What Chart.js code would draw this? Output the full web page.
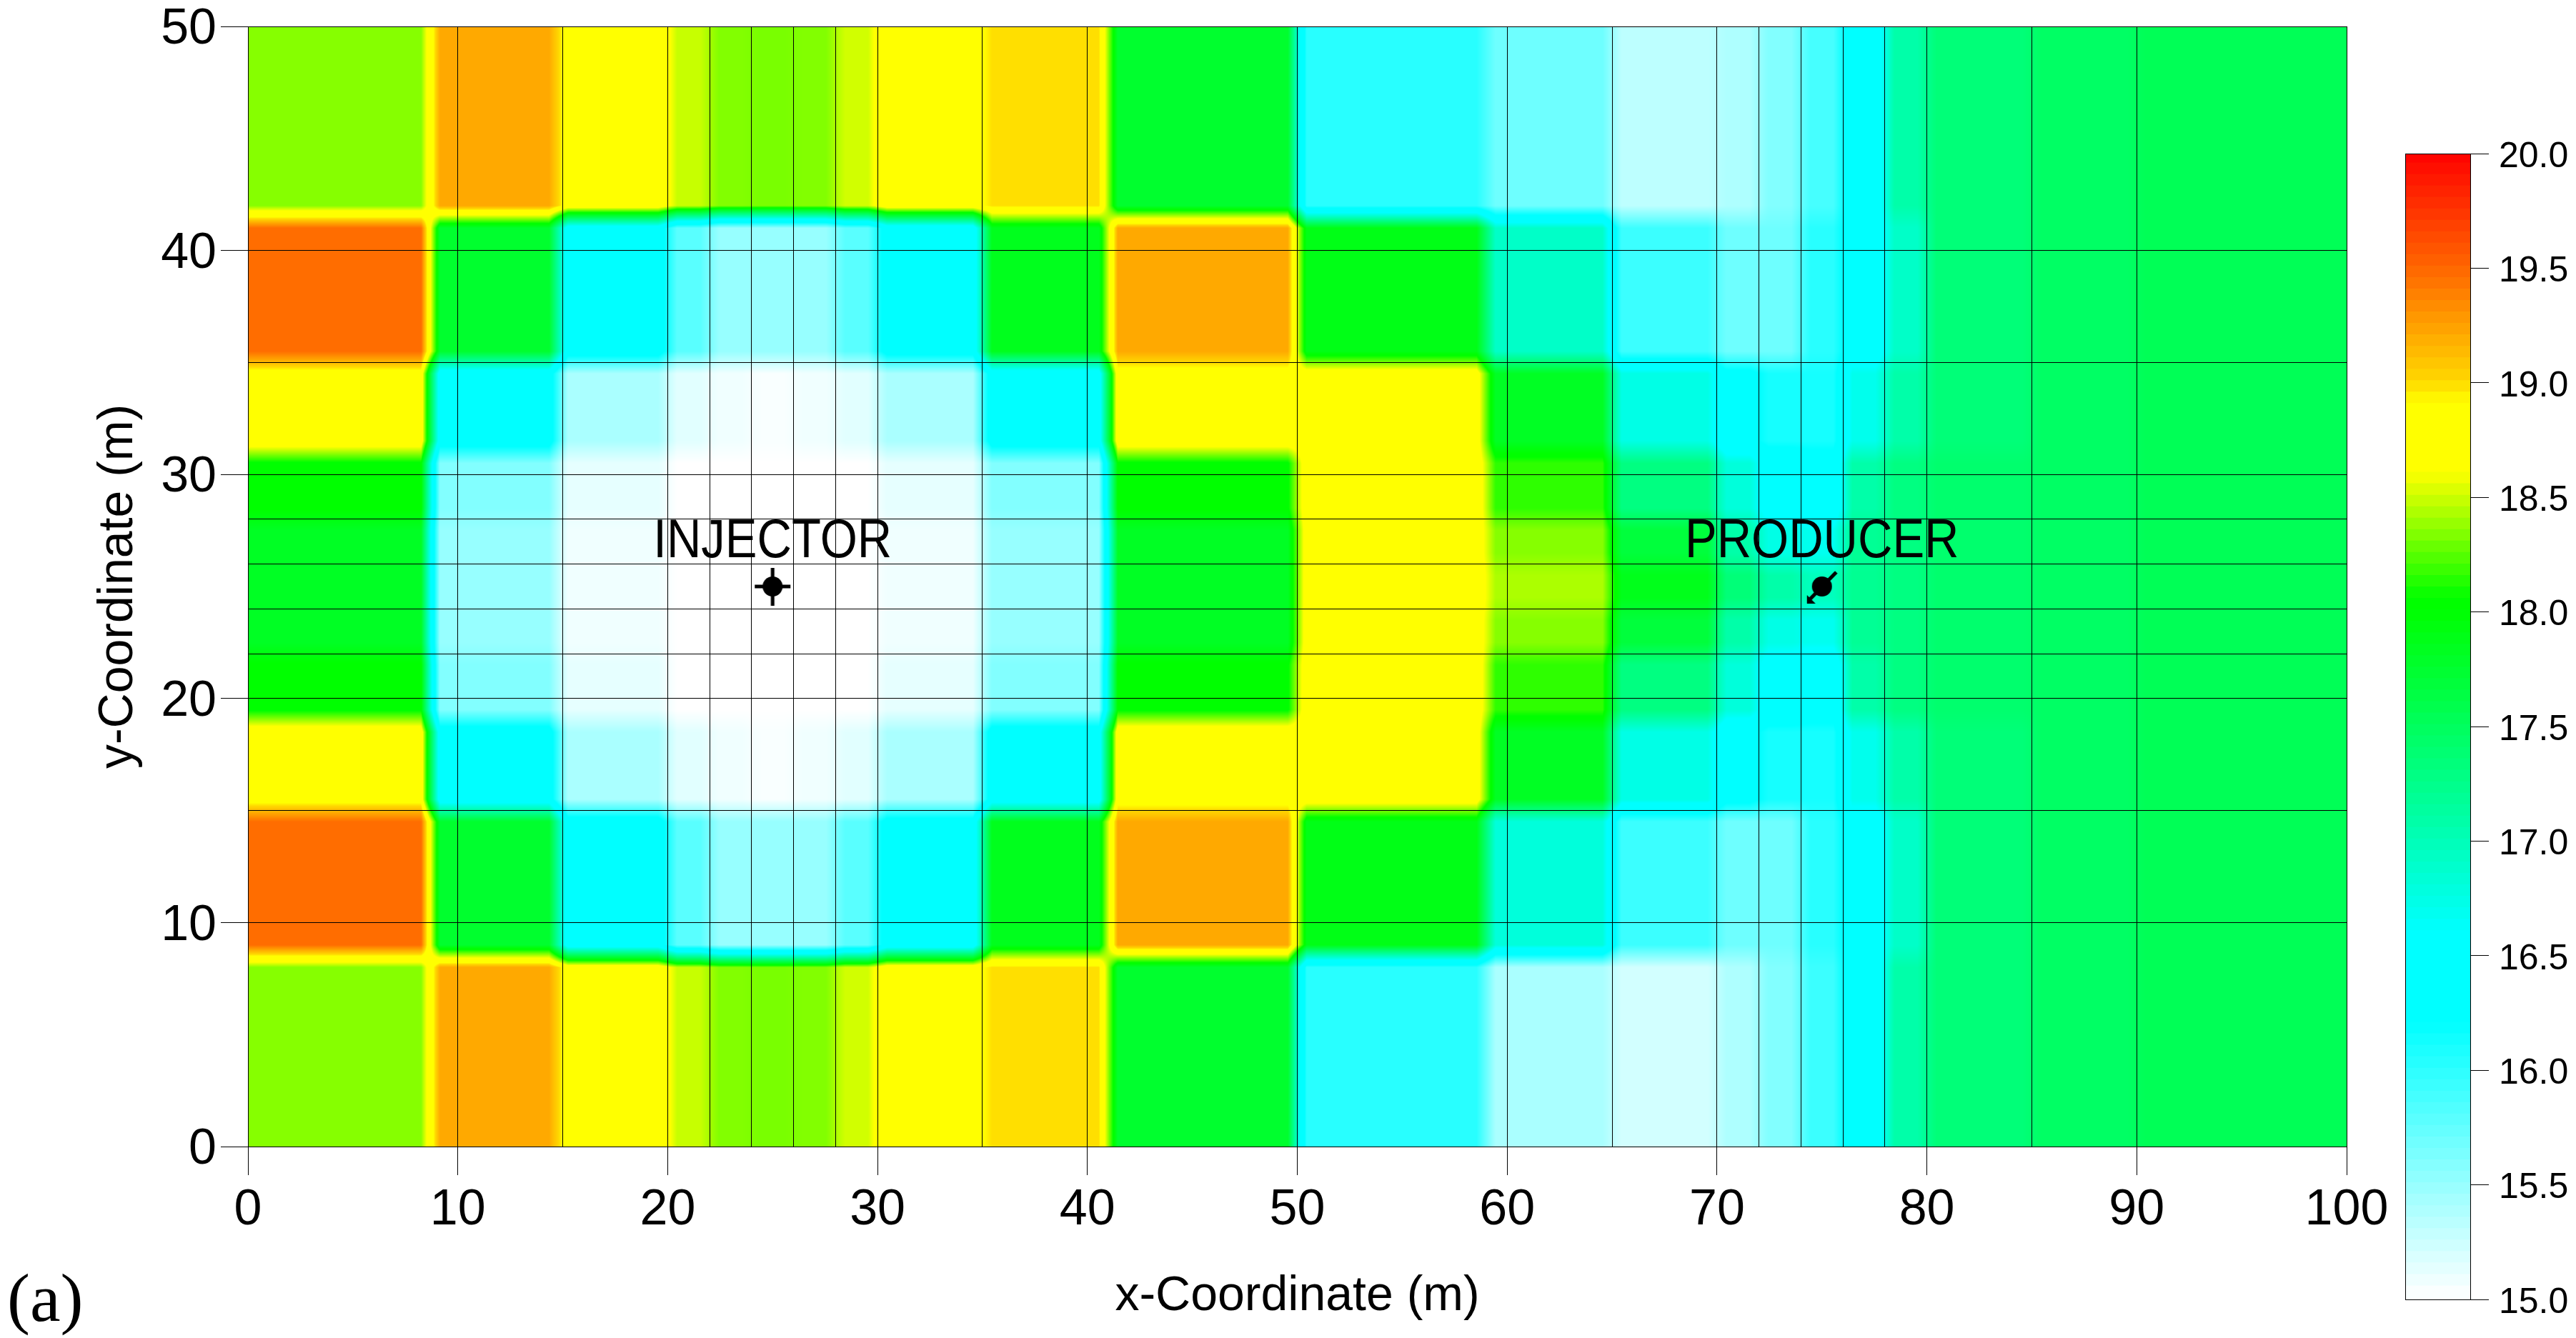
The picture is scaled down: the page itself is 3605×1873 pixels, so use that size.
<!DOCTYPE html>
<html>
<head>
<meta charset="utf-8">
<title>Reservoir map</title>
<script src="https://cdn.jsdelivr.net/npm/chart.js@4"></script>
<style>
    html, body { margin: 0; padding: 0; background: #fff; overflow: hidden; }
    #wrap { position: relative; width: 3605px; height: 1873px; }
    #mapChart { position: absolute; left: 0; top: 0; }
    #barChart { position: absolute; left: 3360px; top: 0; }
</style>
</head>
<body>
<div id="wrap">
    <canvas id="mapChart" width="3605" height="1873"></canvas>
    <canvas id="barChart" width="245" height="1873"></canvas>
</div>
<script>
// grid lines drawn on the map
const gridX = [0, 10, 15, 20, 22, 24, 26, 28, 30, 35, 40, 50, 60, 65, 70, 72, 74, 76, 78, 80, 85, 90, 100];
const gridY = [0, 10, 15, 20, 22, 24, 26, 28, 30, 35, 40, 50];

// block edges of the value table, these do not sit on the grid lines
const blockX = [0, 8.7, 14.8, 20, 22, 24, 26, 28, 30, 35, 41, 50, 59, 65, 70, 72, 74, 76, 78, 80, 85, 90, 100];
const blockY = [0, 8.5, 15, 19, 22, 24, 26, 28, 31, 35, 41.5, 50];

// one row per blockY band, bottom to top
const row0 = [18.34, 19.2, 18.8, 18.48, 18.33, 18.31, 18.33, 18.5, 18.8, 18.98, 17.75, 16.01, 15.4, 15.21, 15.38, 15.59, 15.92, 16.4, 17.07, 17.34, 17.45, 17.53];
const row1 = [19.46, 17.75, 16.4, 15.78, 15.49, 15.49, 15.49, 15.78, 16.35, 17.84, 19.2, 17.88, 16.8, 15.92, 15.68, 15.68, 16.01, 16.4, 16.9, 17.34, 17.45, 17.53];
const row2 = [18.8, 16.4, 15.4, 15.14, 15.07, 15.03, 15.07, 15.14, 15.4, 16.4, 18.8, 18.75, 17.8, 16.74, 16.3, 16.1, 16.1, 16.7, 17.07, 17.34, 17.45, 17.53];
const row3 = [18.02, 15.59, 15.12, 15, 15, 15, 15, 15, 15.12, 15.59, 18.02, 18.8, 18.15, 17.29, 16.8, 16.45, 16.35, 17.07, 17.29, 17.4, 17.45, 17.53];
const row4 = [17.8, 15.49, 15.07, 15, 15, 15, 15, 15, 15.07, 15.49, 17.8, 18.75, 18.34, 17.67, 17.07, 16.74, 16.68, 17.18, 17.29, 17.4, 17.45, 17.53];
const row5 = [17.8, 15.49, 15.07, 15, 15, 15, 15, 15, 15.07, 15.49, 17.8, 18.75, 18.42, 17.85, 17.34, 17.07, 16.96, 17.2, 17.29, 17.4, 17.45, 17.53];
const row6 = [17.8, 15.49, 15.07, 15, 15, 15, 15, 15, 15.07, 15.49, 17.8, 18.75, 18.34, 17.67, 17.07, 16.74, 16.68, 17.18, 17.29, 17.4, 17.45, 17.53];
const row7 = [18.02, 15.59, 15.12, 15, 15, 15, 15, 15, 15.12, 15.59, 18.02, 18.8, 18.15, 17.29, 16.8, 16.45, 16.35, 17.07, 17.29, 17.4, 17.45, 17.53];
const row8 = [18.8, 16.4, 15.4, 15.14, 15.07, 15.03, 15.07, 15.14, 15.4, 16.4, 18.8, 18.75, 17.8, 16.74, 16.3, 16.1, 16.1, 16.7, 17.07, 17.34, 17.45, 17.53];
const row9 = [19.46, 17.75, 16.4, 15.78, 15.49, 15.49, 15.49, 15.78, 16.35, 17.84, 19.2, 17.88, 16.9, 15.92, 15.68, 15.68, 16.01, 16.4, 16.9, 17.34, 17.45, 17.53];
const row10 = [18.34, 19.2, 18.8, 18.48, 18.33, 18.31, 18.33, 18.5, 18.8, 18.98, 17.75, 16.01, 15.68, 15.31, 15.38, 15.59, 15.87, 16.4, 17.07, 17.34, 17.45, 17.53];
const blockRows = [row0, row1, row2, row3, row4, row5, row6, row7, row8, row9, row10];

// wells
const wellNames = ['INJECTOR', 'PRODUCER'];
const wellX = [25, 75];
const wellY = [25, 25];

// colour bar
const barTicks = [15, 15.5, 16, 16.5, 17, 17.5, 18, 18.5, 19, 19.5, 20];
const barStep = 0.05;
const colorStops = [
    [15, 255, 255, 255], [16.2, 0, 255, 255], [16.6, 0, 255, 255], [18, 0, 255, 0], [18.05, 0, 255, 0],
    [18.6, 255, 255, 0], [18.9, 255, 255, 0], [19, 255, 215, 0], [19.5, 255, 100, 0], [20, 255, 0, 0]
];

const sansFont = '"Liberation Sans", Arial, sans-serif';

function colorFor(v) {
    if (v <= colorStops[0][0]) return colorStops[0].slice(1);
    for (let i = 1; i < colorStops.length; i++) {
        const b = colorStops[i];
        if (v <= b[0]) {
            const a = colorStops[i - 1];
            const t = (v - a[0]) / (b[0] - a[0]);
            return [a[1] + (b[1] - a[1]) * t, a[2] + (b[2] - a[2]) * t, a[3] + (b[3] - a[3]) * t];
        }
    }
    return colorStops[colorStops.length - 1].slice(1);
}

// which two blocks a position falls between, and how far across
function blendOf(edges, v, w) {
    let i = 0;
    while (i < edges.length - 2 && v >= edges[i + 1]) i++;
    if (v > edges[i + 1] - w && i < edges.length - 2) return [i, i + 1, (v - edges[i + 1] + w) / (2 * w)];
    if (v < edges[i] + w && i > 0) return [i - 1, i, (v - edges[i] + w) / (2 * w)];
    return [i, i, 0];
}

// paints the value table under the grid lines
const heatPlugin = {
    id: 'heat',
    beforeDraw(chart) {
        const area = chart.chartArea;
        const sx = chart.scales.x, sy = chart.scales.y;
        const w = Math.round(area.right - area.left), h = Math.round(area.bottom - area.top);
        const off = document.createElement('canvas');
        off.width = w; off.height = h;
        const octx = off.getContext('2d');
        const img = octx.createImageData(w, h);
        const xb = [];
        for (let px = 0; px < w; px++) xb.push(blendOf(blockX, sx.getValueForPixel(area.left + px + 0.5), 0.45));
        let k = 0;
        for (let py = 0; py < h; py++) {
            const yb = blendOf(blockY, sy.getValueForPixel(area.top + py + 0.5), 0.5);
            const ra = blockRows[yb[0]], rb = blockRows[yb[1]];
            for (let px = 0; px < w; px++) {
                const b = xb[px];
                const lo = ra[b[0]] + (ra[b[1]] - ra[b[0]]) * b[2];
                const hi = rb[b[0]] + (rb[b[1]] - rb[b[0]]) * b[2];
                const c = colorFor(lo + (hi - lo) * yb[2]);
                img.data[k++] = c[0]; img.data[k++] = c[1]; img.data[k++] = c[2]; img.data[k++] = 255;
            }
        }
        octx.putImageData(img, 0, 0);
        chart.ctx.drawImage(off, area.left, area.top);
    },
    afterDraw(chart) {
        const ctx = chart.ctx;
        ctx.save();
        ctx.fillStyle = '#000';
        ctx.textAlign = 'center';
        ctx.textBaseline = 'alphabetic';
        ctx.font = '67px ' + sansFont;
        wellNames.forEach((name, i) => {
            const px = chart.scales.x.getPixelForValue(wellX[i]);
            const py = chart.scales.y.getPixelForValue(wellY[i]) - 41;
            ctx.save();
            ctx.translate(px, py);
            ctx.scale(1, 1.12);
            ctx.fillText(name, 0, 0);
            ctx.restore();
        });
        ctx.textAlign = 'left';
        ctx.font = '96px "Liberation Serif", "Times New Roman", serif';
        ctx.fillText('(a)', 10, 1849);
        ctx.restore();
    }
};

function wellIcon(kind) {
    const c = document.createElement('canvas');
    c.width = 70; c.height = 70;
    const g = c.getContext('2d');
    g.fillStyle = '#000'; g.strokeStyle = '#000'; g.lineWidth = 5;
    g.beginPath(); g.arc(35, 35, 14, 0, Math.PI * 2); g.fill();
    g.beginPath();
    if (kind === 0) {
        g.moveTo(10, 35); g.lineTo(60, 35);
        g.moveTo(35, 9); g.lineTo(35, 62);
        g.stroke();
    } else {
        g.moveTo(55, 15); g.lineTo(17, 54);
        g.stroke();
        g.beginPath();
        g.moveTo(14, 59); g.lineTo(14, 47); g.lineTo(26, 59); g.closePath(); g.fill();
    }
    return c;
}

const wellPoints = wellX.map((x, i) => ({ x: x, y: wellY[i] }));

new Chart(document.getElementById('mapChart'), {
    type: 'scatter',
    plugins: [heatPlugin],
    data: {
        datasets: [{
            label: 'Wells',
            data: wellPoints,
            pointStyle: [wellIcon(0), wellIcon(1)],
            pointRadius: 35
        }]
    },
    options: {
        responsive: false,
        animation: false,
        events: [],
        layout: { padding: { top: 37, right: 321, left: 0, bottom: 0 } },
        plugins: { legend: { display: false }, tooltip: { enabled: false } },
        scales: {
            x: {
                type: 'linear', min: 0, max: 100,
                afterBuildTicks: s => { s.ticks = gridX.map(v => ({ value: v })); },
                afterFit: s => { s.height = 268; s.paddingLeft = 0; s.paddingRight = 0; },
                ticks: {
                    autoSkip: false, maxRotation: 0, padding: 8, color: '#000',
                    font: { family: sansFont, size: 70 },
                    callback: v => (v % 10 === 0 ? v : '')
                },
                grid: {
                    color: '#000', lineWidth: 1, tickLength: 40,
                    tickColor: c => (c.tick && c.tick.value % 10 === 0 ? '#000' : 'rgba(0,0,0,0)')
                },
                border: { color: '#000', width: 1 },
                title: {
                    display: true, text: 'x-Coordinate (m)', color: '#000',
                    font: { family: sansFont, size: 68 }, padding: { top: 17, bottom: 17 }
                }
            },
            y: {
                type: 'linear', min: 0, max: 50,
                afterBuildTicks: s => { s.ticks = gridY.map(v => ({ value: v })); },
                afterFit: s => { s.width = 347; s.paddingTop = 0; s.paddingBottom = 0; },
                ticks: {
                    autoSkip: false, padding: 6, color: '#000',
                    // small line height + empty first line nudges the labels down a few px
                    font: { family: sansFont, size: 70, lineHeight: 0.14 },
                    callback: v => (v % 10 === 0 ? ['', String(v)] : '')
                },
                grid: {
                    color: '#000', lineWidth: 1, tickLength: 38,
                    tickColor: c => (c.tick && c.tick.value % 10 === 0 ? '#000' : 'rgba(0,0,0,0)')
                },
                border: { color: '#000', width: 1 },
                title: {
                    display: true, text: 'y-Coordinate (m)', color: '#000',
                    font: { family: sansFont, size: 68 }, padding: { top: 125, bottom: 125 }
                }
            }
        }
    }
});

// colour bar, one floating bar per band
const barSets = [];
for (let v = 15; v < 20 - 1e-6; v += barStep) {
    const c = colorFor(v + barStep / 2);
    barSets.push({
        data: [[v, Math.min(20, v + barStep + 0.01)]],
        backgroundColor: 'rgb(' + c.map(Math.round).join(',') + ')',
        borderWidth: 0, barPercentage: 1, categoryPercentage: 1, grouped: false
    });
}

new Chart(document.getElementById('barChart'), {
    type: 'bar',
    plugins: [{
        id: 'barBox',
        afterDraw(chart) {
            const a = chart.chartArea, ctx = chart.ctx;
            ctx.save();
            ctx.strokeStyle = '#000'; ctx.lineWidth = 1;
            ctx.strokeRect(Math.round(a.left) + 0.5, Math.round(a.top) + 0.5, Math.round(a.right - a.left), Math.round(a.bottom - a.top));
            ctx.restore();
        }
    }],
    data: { labels: [''], datasets: barSets },
    options: {
        responsive: false,
        animation: false,
        events: [],
        layout: { padding: { top: 215, bottom: 54, left: 6, right: 0 } },
        plugins: { legend: { display: false }, tooltip: { enabled: false } },
        scales: {
            x: { display: false },
            y: {
                position: 'right', min: 15, max: 20,
                afterBuildTicks: s => { s.ticks = barTicks.map(v => ({ value: v })); },
                afterFit: s => { s.width = 148; },
                ticks: {
                    autoSkip: false, padding: 14, color: '#000',
                    font: { family: sansFont, size: 50, lineHeight: 0.2 },
                    callback: v => ['', v.toFixed(1)]
                },
                grid: { drawOnChartArea: false, color: '#000', lineWidth: 1, tickLength: 26 },
                border: { color: '#000', width: 1 }
            }
        }
    }
});
</script>
</body>
</html>
